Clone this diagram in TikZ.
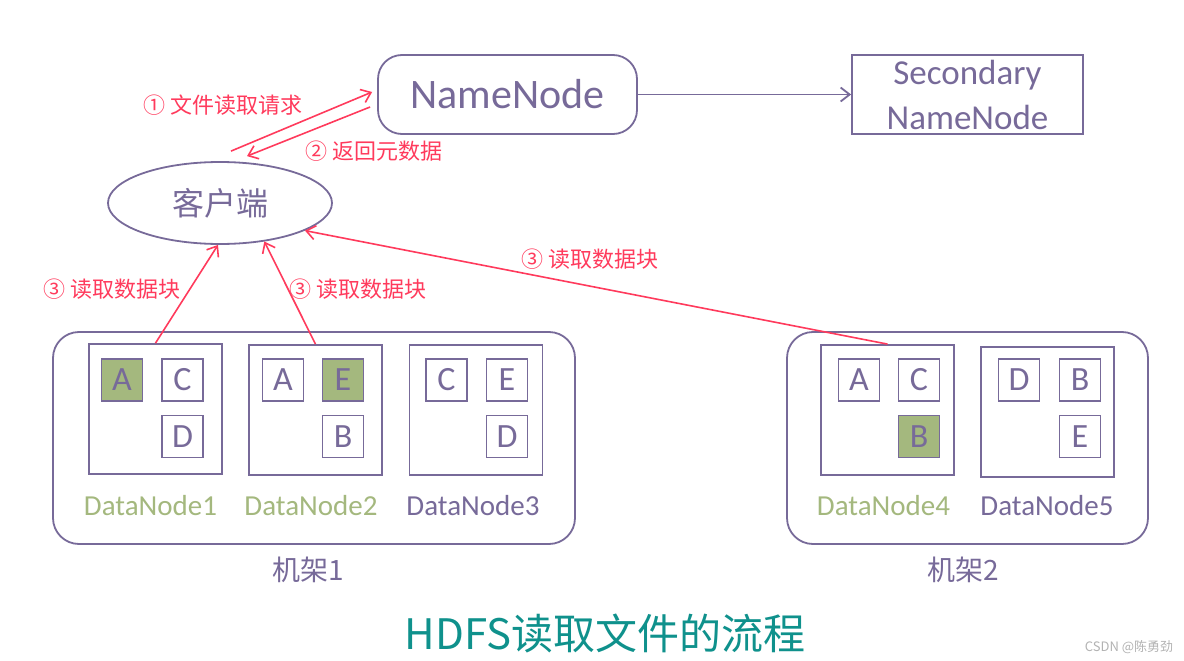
\documentclass[tikz,border=0pt]{standalone}
\usepackage{fontspec}
\setmainfont{Carlito}
\newfontfamily\cjk{Noto Sans CJK SC}
\usetikzlibrary{shapes.geometric,arrows.meta}
\definecolor{hdpurple}{HTML}{776A99}
\definecolor{hdgreen}{HTML}{A4B87E}
\definecolor{hdred}{HTML}{FF3A5C}
\definecolor{hdteal}{HTML}{0F918C}
\begin{document}
\begin{tikzpicture}[x=1pt,y=-1pt,hdpurple,line width=1.8pt,
  >={Straight Barb[length=9pt,width=14pt]},
  rack/.style={draw,rounded corners=26pt,minimum width=#1,minimum height=212pt,inner sep=0pt},
  dnbox/.style={draw,minimum width=133pt,minimum height=130pt,inner sep=0pt},
  blk/.style={draw,line width=1.4pt,minimum width=41pt,minimum height=42pt,inner sep=0pt,
    font=\fontsize{34}{38}\selectfont},
  hot/.style={fill=hdgreen},
  cold/.style={fill=white},
  dnlabel/.style={font=\fontsize{29}{34}\selectfont},
  req/.style={hdred,line width=1.6pt,->},
  reqlabel/.style={text=hdred,font=\cjk\fontsize{22}{26}\selectfont}]
\useasboundingbox (0,0) rectangle (1184,661);
% name nodes
\node[draw,rounded corners=24pt,minimum width=259pt,minimum height=79pt,inner sep=0pt,
      font=\fontsize{42}{50}\selectfont] (nn) at (507.5,94.5) {NameNode};
\node[draw,minimum width=231pt,minimum height=79pt,inner sep=0pt,align=center,
      font=\fontsize{35}{45}\selectfont] (snn) at (967.5,94.5) {Secondary\\NameNode};
\draw[->] (nn) -- (snn);
% client
\node[draw,ellipse,minimum width=224pt,minimum height=82pt,inner sep=0pt,
      font=\cjk\fontsize{32}{38}\selectfont] (cl) at (220,203) {客户端};
% racks
\node[rack=522pt] (rack1) at (314,438) {};
\node[rack=361pt] (rack2) at (967.5,438) {};
\node[font=\cjk\fontsize{28}{34}\selectfont] (r1) at (308.5,570) {机架1};
\node[font=\cjk\fontsize{28}{34}\selectfont] (r2) at (963.5,570) {机架2};
% data nodes
\node[dnbox] (dn1) at (155.5,409) {};
\node[dnbox] (dn2) at (315.5,410) {};
\node[dnbox] (dn3) at (476,410) {};
\node[dnbox] (dn4) at (887.5,410) {};
\node[dnbox] (dn5) at (1047.5,412) {};
\node[dnlabel,text=hdgreen] (l1) at (150.5,506) {DataNode1};
\node[dnlabel,text=hdgreen] (l2) at (311,506) {DataNode2};
\node[dnlabel] (l3) at (473,506) {DataNode3};
\node[dnlabel,text=hdgreen] (l4) at (883.5,506) {DataNode4};
\node[dnlabel] (l5) at (1047,506) {DataNode5};
% blocks
\foreach \n/\x/\y/\t/\s in {dn1a/122/380/A/hot, dn1c/182.5/380/C/cold, dn1d/182.5/436.5/D/cold,
    dn2a/283/380/A/cold, dn2e/343/380/E/hot, dn2b/343/436.5/B/cold,
    dn3c/446.5/380/C/cold, dn3e/507/380/E/cold, dn3d/507/436.5/D/cold,
    dn4a/859/380/A/cold, dn4c/919/380/C/cold, dn4b/919/436.5/B/hot,
    dn5d/1019/380/D/cold, dn5b/1080/380/B/cold, dn5e/1080/436.5/E/cold}
  \node[blk,\s] (\n) at (\x,\y) {\t};
% requests
\draw[req] ([xshift=11pt,yshift=10pt]cl.north) -- ([xshift=-5pt,yshift=2.5pt]nn.west);
\draw[req] ([xshift=-7pt,yshift=-12.5pt]nn.west) -- ([xshift=27pt,yshift=5pt]cl.north);
\node[reqlabel] (q1) at (223,105) {① 文件读取请求};
\node[reqlabel] (q2) at (374,151) {② 返回元数据};
% reading blocks
\draw[req] (dn1.north) -- ([xshift=-2pt]cl.south);
\draw[req] (dn2.north) -- (cl.-41.5);
\draw[req] (dn4.north) -- (cl.-18.9);
\node[reqlabel] (q3a) at (112,289) {③ 读取数据块};
\node[reqlabel] (q3b) at (358,289) {③ 读取数据块};
\node[reqlabel] (q3c) at (590,259) {③ 读取数据块};
% title
\node[text=hdteal,font=\cjk\fontsize{42}{50}\selectfont] (title) at (605,633) {HDFS读取文件的流程};
\node[text=black!30,font=\cjk\fontsize{13}{15}\selectfont] (mark) at (1129,647) {CSDN @陈勇劲};
\end{tikzpicture}
\end{document}
